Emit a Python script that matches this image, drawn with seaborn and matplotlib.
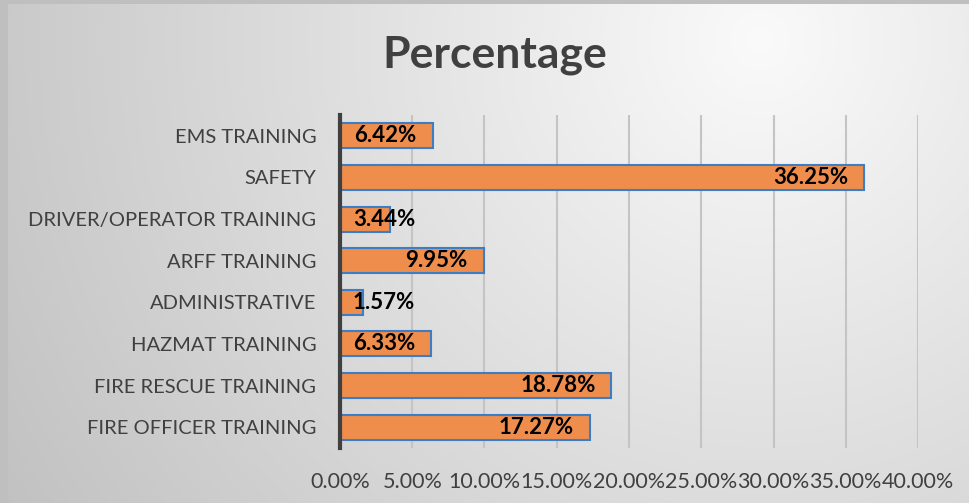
import numpy as np
import pandas as pd
import seaborn as sns
import matplotlib.pyplot as plt
from matplotlib.ticker import FuncFormatter

categories = ['EMS TRAINING', 'SAFETY', 'DRIVER/OPERATOR TRAINING', 'ARFF TRAINING',
              'ADMINISTRATIVE', 'HAZMAT TRAINING', 'FIRE RESCUE TRAINING',
              'FIRE OFFICER TRAINING']
percent = [6.42, 36.25, 3.44, 9.95, 1.57, 6.33, 18.78, 17.27]
x_ticks = [0, 5, 10, 15, 20, 25, 30, 35, 40]

sns.set_style('white')
plt.rcParams['font.family'] = ['Lato', 'DejaVu Sans']

df = pd.DataFrame({'category': categories, 'percent': percent})

fig = plt.figure(figsize=(9.7, 5.03), dpi=100)

# gradient background, brighter at the upper right
bg = fig.add_axes([0, 0, 1, 1], zorder=-10)
yy, xx = np.mgrid[0:503, 0:970]
dist = np.sqrt((xx - 760.0) ** 2 + (yy - 40.0) ** 2) / 800.0
shade = 0.98 - 0.2 * np.clip(dist, 0, 1.1)
img = np.dstack([shade, shade, shade])
img[:4, :, :] = 0.75
img[:, :8, :] = 0.75
bg.imshow(img, aspect='auto', extent=[0, 970, 503, 0])
bg.axis('off')

ax = fig.add_axes([0.3505, 0.1093, 0.5959, 0.6621])
ax.patch.set_alpha(0)
sns.barplot(data=df, y='category', x='percent', orient='h', ax=ax,
            color='#EE8D4C', saturation=1, width=0.6,
            edgecolor='#3D7DC4', linewidth=1.5, zorder=3)

ax.set_xlim(0, 40)
ax.set_xticks(x_ticks)
ax.xaxis.set_major_formatter(FuncFormatter(lambda v, p: f'{v:.2f}%'))
ax.grid(axis='x', color='#c4c4c4', linewidth=1.5, zorder=0)
ax.set_axisbelow(True)
for side in ['top', 'right', 'bottom']:
    ax.spines[side].set_visible(False)
ax.spines['left'].set_color('#404040')
ax.spines['left'].set_linewidth(3)
ax.spines['left'].set_zorder(5)
ax.tick_params(axis='both', length=0)
ax.tick_params(axis='y', labelsize=14.5, labelcolor='#404040', pad=17)
ax.tick_params(axis='x', labelsize=15.5, labelcolor='#404040', pad=17)
ax.set_xlabel('')
ax.set_ylabel('')

for i, v in enumerate(percent):
    ax.text(max(v - 1.1, 5.2), i, f'{v:.2f}%', ha='right', va='center',
            fontsize=16, fontweight='bold', color='black', zorder=6)

fig.text(0.51, 0.89, 'Percentage', ha='center', va='center',
         fontsize=32, fontweight='bold', color='#404040')

plt.savefig('out.png', dpi=100)
